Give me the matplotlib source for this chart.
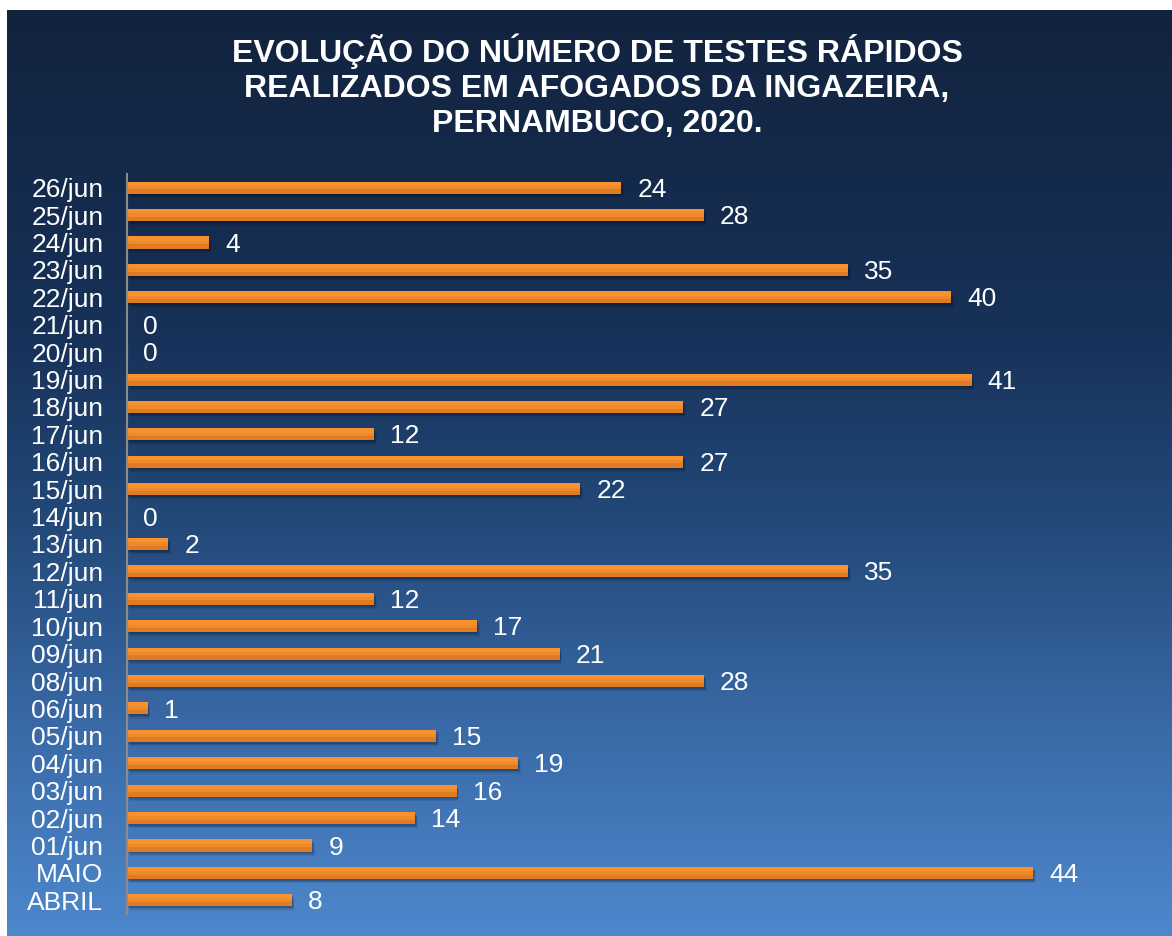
import numpy as np
import matplotlib
matplotlib.use("Agg")
import matplotlib.pyplot as plt
from matplotlib.colors import LinearSegmentedColormap

plt.rcParams['font.family'] = ['Liberation Sans', 'DejaVu Sans']

# data, top to bottom as in the chart
labels = ['26/jun', '25/jun', '24/jun', '23/jun', '22/jun', '21/jun', '20/jun',
          '19/jun', '18/jun', '17/jun', '16/jun', '15/jun', '14/jun', '13/jun',
          '12/jun', '11/jun', '10/jun', '09/jun', '08/jun', '06/jun', '05/jun',
          '04/jun', '03/jun', '02/jun', '01/jun', 'MAIO', 'ABRIL']
values = [24, 28, 4, 35, 40, 0, 0, 41, 27, 12, 27, 22, 0, 2, 35, 12, 17, 21,
          28, 1, 15, 19, 16, 14, 9, 44, 8]
title = ('EVOLUÇÃO DO NÚMERO DE TESTES RÁPIDOS\n'
         'REALIZADOS EM AFOGADOS DA INGAZEIRA,\n'
         'PERNAMBUCO, 2020.')

W, H = 1172, 936
fig = plt.figure(figsize=(W / 100, H / 100), dpi=100)
fig.patch.set_facecolor('white')

# gradient background panel
bg = fig.add_axes([7 / W, 0, 1 - 7 / W, (H - 10) / H])
cmap = LinearSegmentedColormap.from_list(
    'bg', [(0.0, '#12233e'), (0.345, '#173158'), (0.56, '#234a7a'),
           (0.78, '#3a6aa8'), (1.0, '#4d88cc')])
grad = np.linspace(0, 1, 512).reshape(-1, 1)
bg.imshow(grad, aspect='auto', cmap=cmap, extent=[0, 1, 0, 1], origin='upper')
bg.set_axis_off()

fig.text(597 / W, 1 - 86 / H, title, ha='center', va='center', color='white',
         fontsize=23, fontweight='bold', linespacing=1.22)

ax = fig.add_axes([127 / W, 22 / H, 1030 / W, 740 / H])
ax.patch.set_alpha(0)
y = np.arange(len(labels))[::-1]
vals = np.array(values)

# soft shadow, then bar with a slightly darker lower part
for k, a in [(0.16, 0.08), (0.11, 0.12), (0.06, 0.15)]:
    ax.barh(y - k, vals, height=0.44, left=k * 0.8, color='black', alpha=a,
            linewidth=0)
ax.barh(y, vals, height=0.44, color='#f8922f', linewidth=0)
ax.barh(y - 0.08, vals, height=0.28, color='#ef8a2b', linewidth=0)
ax.barh(y - 0.14, vals, height=0.16, color='#e07b25', linewidth=0)

for yi, v in zip(y, vals):
    ax.annotate(str(v), (v, yi), xytext=(11.5, -1.5), textcoords='offset points',
                va='center', ha='left', color='white', fontsize=19)

ax.set_xlim(0, 50)
ax.set_ylim(-0.5, len(labels) - 0.5)
ax.set_yticks(y)
ax.set_yticklabels(labels, fontsize=19, color='white')
ax.tick_params(axis='y', length=0, pad=17)
ax.set_xticks([])
for s in ['top', 'right', 'bottom']:
    ax.spines[s].set_visible(False)
ax.spines['left'].set_color('#8c8c8c')
ax.spines['left'].set_linewidth(1.5)
ax.spines['left'].set_zorder(5)

fig.savefig('out.png', dpi=100)
